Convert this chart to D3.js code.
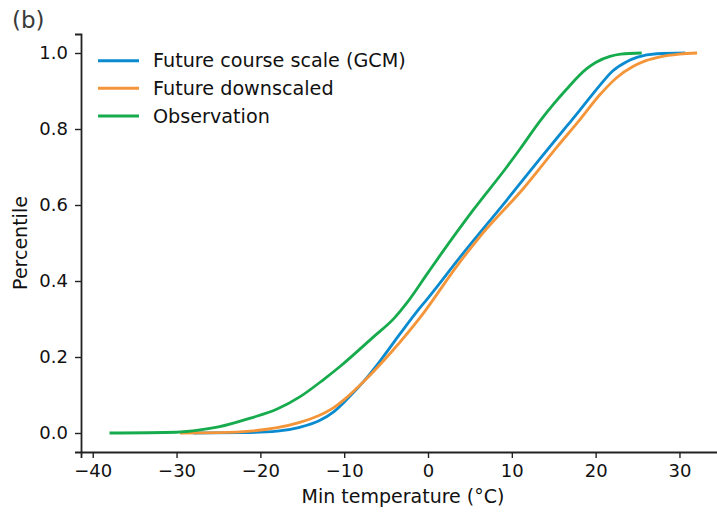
<!DOCTYPE html>
<html>
<head>
<meta charset="utf-8">
<script src="https://cdn.jsdelivr.net/npm/d3@7"></script>
<style>
  body { margin: 0; background: #fff; }
  text { font-family: "DejaVu Sans", sans-serif; }
</style>
</head>
<body>
<svg id="chart" width="717" height="515"></svg>
<script>
// Series: temperature (°C) and cumulative percentile
const gcmTemp = [-28, -22, -18, -15.3, -13, -11.3, -9.7, -7.7, -5.7, -3.3, -0.95, 0, 3.8, 9.4, 13.4, 16.5, 18.1, 20.5, 22, 23.7, 25, 27.3, 30.7];
const gcmPct  = [0, 0.001, 0.005, 0.015, 0.032, 0.055, 0.088, 0.135, 0.19, 0.262, 0.33, 0.355, 0.462, 0.613, 0.723, 0.806, 0.849, 0.915, 0.952, 0.977, 0.989, 0.998, 1.0];

const downTemp = [-29.6, -25, -21.2, -18, -15.3, -13, -11.3, -10, -7.7, -4.5, -0.56, 3.4, 6.2, 11.4, 15.4, 18.1, 20.5, 22.5, 24.5, 26, 27.7, 30, 32.1];
const downPct  = [0, 0.001, 0.005, 0.014, 0.028, 0.046, 0.066, 0.088, 0.135, 0.21, 0.315, 0.438, 0.517, 0.644, 0.753, 0.824, 0.89, 0.935, 0.965, 0.98, 0.99, 0.997, 1.0];

const obsTemp = [-38, -30, -27.2, -25, -21.2, -18, -15.3, -12.5, -10.5, -6.5, -4, -2.5, 0, 1.4, 5.4, 9.4, 11, 13.4, 15, 16.5, 18.9, 20, 21.7, 23, 25.5];
const obsPct  = [0, 0.002, 0.008, 0.016, 0.039, 0.063, 0.095, 0.14, 0.175, 0.253, 0.303, 0.343, 0.422, 0.466, 0.587, 0.70, 0.748, 0.822, 0.866, 0.904, 0.958, 0.975, 0.991, 0.997, 1.0];

const seriesNames = ["Future course scale (GCM)", "Future downscaled", "Observation"];
const xTicks = [-40, -30, -20, -10, 0, 10, 20, 30];
const yTicks = [0.0, 0.2, 0.4, 0.6, 0.8, 1.0];

const series = [
  {name: seriesNames[0], color: "#0b8bcf", pts: gcmTemp.map((t, i) => [t, gcmPct[i]])},
  {name: seriesNames[1], color: "#f4953a", pts: downTemp.map((t, i) => [t, downPct[i]])},
  {name: seriesNames[2], color: "#16ab4c", pts: obsTemp.map((t, i) => [t, obsPct[i]])}
];

const svg = d3.select("#chart");

// Scales (matplotlib-like 5% margins)
const x = d3.scaleLinear().domain([-41.4, 35.6]).range([81, 726.4]);
const y = d3.scaleLinear().domain([-0.05, 1.05]).range([452, 34]);

// X axis
const xAxis = svg.append("g")
  .attr("transform", `translate(0,${y(-0.05)})`)
  .call(d3.axisBottom(x).tickValues(xTicks).tickSize(6).tickPadding(6)
    .tickFormat(d => d < 0 ? "\u2212" + Math.abs(d) : d));
xAxis.select(".domain").attr("stroke", "#222").attr("stroke-width", 1.8);
xAxis.selectAll(".tick line").attr("stroke", "#222").attr("stroke-width", 1.4);
xAxis.selectAll(".tick text").style("font-size", "18px").attr("fill", "#111");

// Y axis
const yAxis = svg.append("g")
  .attr("transform", `translate(${x(-41.4)},0)`)
  .call(d3.axisLeft(y).tickValues(yTicks).tickSize(6).tickPadding(7)
    .tickFormat(d3.format(".1f")));
yAxis.select(".domain").attr("stroke", "#222").attr("stroke-width", 1.8);
yAxis.selectAll(".tick line").attr("stroke", "#222").attr("stroke-width", 1.4);
yAxis.selectAll(".tick text").style("font-size", "18px").attr("fill", "#111");

// Lines
const line = d3.line()
  .x(d => x(d[0]))
  .y(d => y(d[1]))
  .curve(d3.curveMonotoneX);

svg.selectAll(".series")
  .data(series)
  .join("path")
  .attr("class", "series")
  .attr("fill", "none")
  .attr("stroke", d => d.color)
  .attr("stroke-width", 2.8)
  .attr("d", d => line(d.pts));

// Legend
const legend = svg.append("g");
series.forEach((s, i) => {
  const ly = 60.7 + i * 27.6;
  legend.append("line")
    .attr("x1", 98).attr("x2", 139)
    .attr("y1", ly).attr("y2", ly)
    .attr("stroke", s.color)
    .attr("stroke-width", 3);
  legend.append("text")
    .attr("x", 153).attr("y", ly)
    .attr("dy", "0.35em")
    .style("font-size", "19.2px")
    .attr("fill", "#111")
    .text(s.name);
});

// Axis labels
svg.append("text")
  .attr("x", 403).attr("y", 503)
  .attr("text-anchor", "middle")
  .style("font-size", "19px")
  .attr("fill", "#111")
  .text("Min temperature (°C)");

svg.append("text")
  .attr("transform", `translate(27,${y(0.5)}) rotate(-90)`)
  .attr("text-anchor", "middle")
  .style("font-size", "19px")
  .attr("fill", "#111")
  .text("Percentile");

// Panel tag
svg.append("text")
  .attr("x", 12).attr("y", 28)
  .style("font-size", "23px")
  .attr("fill", "#3a3a3a")
  .text("(b)");
</script>
</body>
</html>
